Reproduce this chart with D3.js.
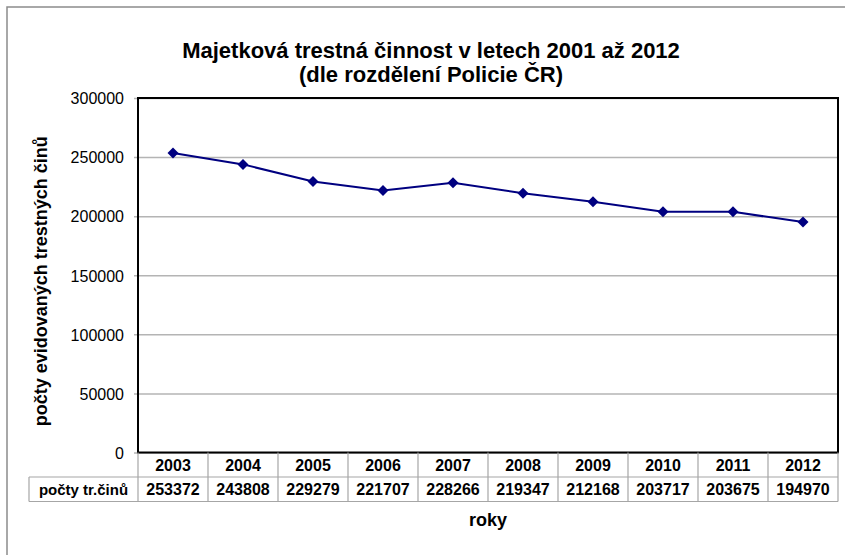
<!DOCTYPE html>
<html>
<head>
<meta charset="utf-8">
<script src="https://cdn.jsdelivr.net/npm/d3@7"></script>
<style>
	body { margin: 0; background: #fff; }
	svg { font-family: "Liberation Sans", Arial, sans-serif; }
</style>
</head>
<body>
<div id="chart"></div>
<script>
// data
const years = ['2003', '2004', '2005', '2006', '2007', '2008', '2009', '2010', '2011', '2012']
const counts = [253372, 243808, 229279, 221707, 228266, 219347, 212168, 203717, 203675, 194970]
const yTicks = [0, 50000, 100000, 150000, 200000, 250000, 300000]
const rowLabel = 'počty tr.činů'
const titleLines = ['Majetková trestná činnost v letech 2001 až 2012', '(dle rozdělení Policie ČR)']
const yTitle = 'počty evidovaných trestných činů'
const xTitle = 'roky'

const width = 845
const height = 555

const padLeft = 138
const padRight = 838
const padTop = 98
const padBottom = 452.5
const rowH = 24.5
const labelLeft = 29

const svg = d3.select('#chart').append('svg')
	.attr('width', width)
	.attr('height', height)

// outer chart frame (only top and left visible)
svg.append('path')
	.attr('d', `M7,${height} V7 H${width}`)
	.style('fill', 'none')
	.style('stroke', '#8c8c8c')
	.style('stroke-width', 1.5)

let x = d3.scaleBand().domain(years).range([padLeft, padRight])
let y = d3.scaleLinear().domain([0, 300000]).range([padBottom, padTop])

// gridlines, drawn from the right so the tick stubs poke out on the left
let yAxis = d3.axisLeft(y)
	.tickValues(yTicks)
	.tickSize(padRight - padLeft + 4)
	.tickFormat(d3.format('d'))

let gy = svg.append('g')
	.attr('transform', `translate(${padRight}, 0)`)
	.call(yAxis)

gy.select('.domain').remove()
gy.selectAll('.tick line')
	.style('stroke', '#b4b4b4')
	.style('stroke-width', 1.5)
gy.selectAll('.tick text')
	.attr('x', -(padRight - padLeft + 4) - 10)
	.attr('dy', '0.36em')
	.style('font-size', '16px')
	.style('fill', '#000')
	.style('font-family', '"Liberation Sans", Arial, sans-serif')

// plot frame
svg.append('rect')
	.attr('x', padLeft)
	.attr('y', padTop)
	.attr('width', padRight - padLeft)
	.attr('height', padBottom - padTop)
	.style('fill', 'none')
	.style('stroke', '#000')
	.style('stroke-width', 2)

// data table
let table = svg.append('g')
	.style('stroke', '#a6a6a6')
	.style('stroke-width', 1.2)
	.style('fill', 'none')

table.append('line')
	.attr('x1', labelLeft).attr('x2', padRight)
	.attr('y1', padBottom + rowH).attr('y2', padBottom + rowH)
table.append('line')
	.attr('x1', labelLeft).attr('x2', padRight)
	.attr('y1', padBottom + 2 * rowH).attr('y2', padBottom + 2 * rowH)
table.append('line')
	.attr('x1', labelLeft).attr('x2', labelLeft)
	.attr('y1', padBottom + rowH).attr('y2', padBottom + 2 * rowH)

let cols = years.map(d => x(d)).concat([padRight])
table.selectAll('.vline')
	.data(cols)
	.enter().append('line')
	.attr('class', 'vline')
	.attr('x1', d => d).attr('x2', d => d)
	.attr('y1', padBottom).attr('y2', padBottom + 2 * rowH)

let cellText = svg.append('g')
	.style('font-size', '16px')
	.style('font-weight', 'bold')
	.attr('text-anchor', 'middle')

cellText.selectAll('.yr')
	.data(years)
	.enter().append('text')
	.attr('x', d => x(d) + x.bandwidth() / 2)
	.attr('y', padBottom + rowH / 2 + 6)
	.text(d => d)

cellText.selectAll('.val')
	.data(counts)
	.enter().append('text')
	.attr('x', (d, i) => x(years[i]) + x.bandwidth() / 2)
	.attr('y', padBottom + rowH * 1.5 + 6)
	.text(d => d)

cellText.append('text')
	.attr('x', (labelLeft + padLeft) / 2)
	.attr('y', padBottom + rowH * 1.5 + 6)
	.style('font-size', '15px')
	.text(rowLabel)

// line + markers
let line = d3.line()
	.x((d, i) => x(years[i]) + x.bandwidth() / 2)
	.y(d => y(d))

svg.append('path')
	.attr('d', line(counts))
	.style('fill', 'none')
	.style('stroke', '#000080')
	.style('stroke-width', 2)

svg.append('g')
	.selectAll('.dot')
	.data(counts)
	.enter().append('path')
	.attr('class', 'dot')
	.attr('d', 'M0,-5.5 L5.5,0 L0,5.5 L-5.5,0 Z')
	.attr('transform', (d, i) => `translate(${x(years[i]) + x.bandwidth() / 2}, ${y(d)})`)
	.style('fill', '#000080')

// titles
svg.append('text')
	.attr('text-anchor', 'middle')
	.style('font-size', '22px')
	.style('font-weight', 'bold')
	.selectAll('tspan')
	.data(titleLines)
	.enter().append('tspan')
	.attr('x', 431)
	.attr('y', (d, i) => 58 + i * 24)
	.text(d => d)

svg.append('text')
	.attr('text-anchor', 'middle')
	.attr('transform', `translate(47, ${(padTop + padBottom) / 2 + 6}) rotate(-90)`)
	.style('font-size', '18px')
	.style('font-weight', 'bold')
	.text(yTitle)

svg.append('text')
	.attr('text-anchor', 'middle')
	.attr('x', (padLeft + padRight) / 2)
	.attr('y', 526)
	.style('font-size', '18px')
	.style('font-weight', 'bold')
	.text(xTitle)
</script>
</body>
</html>
